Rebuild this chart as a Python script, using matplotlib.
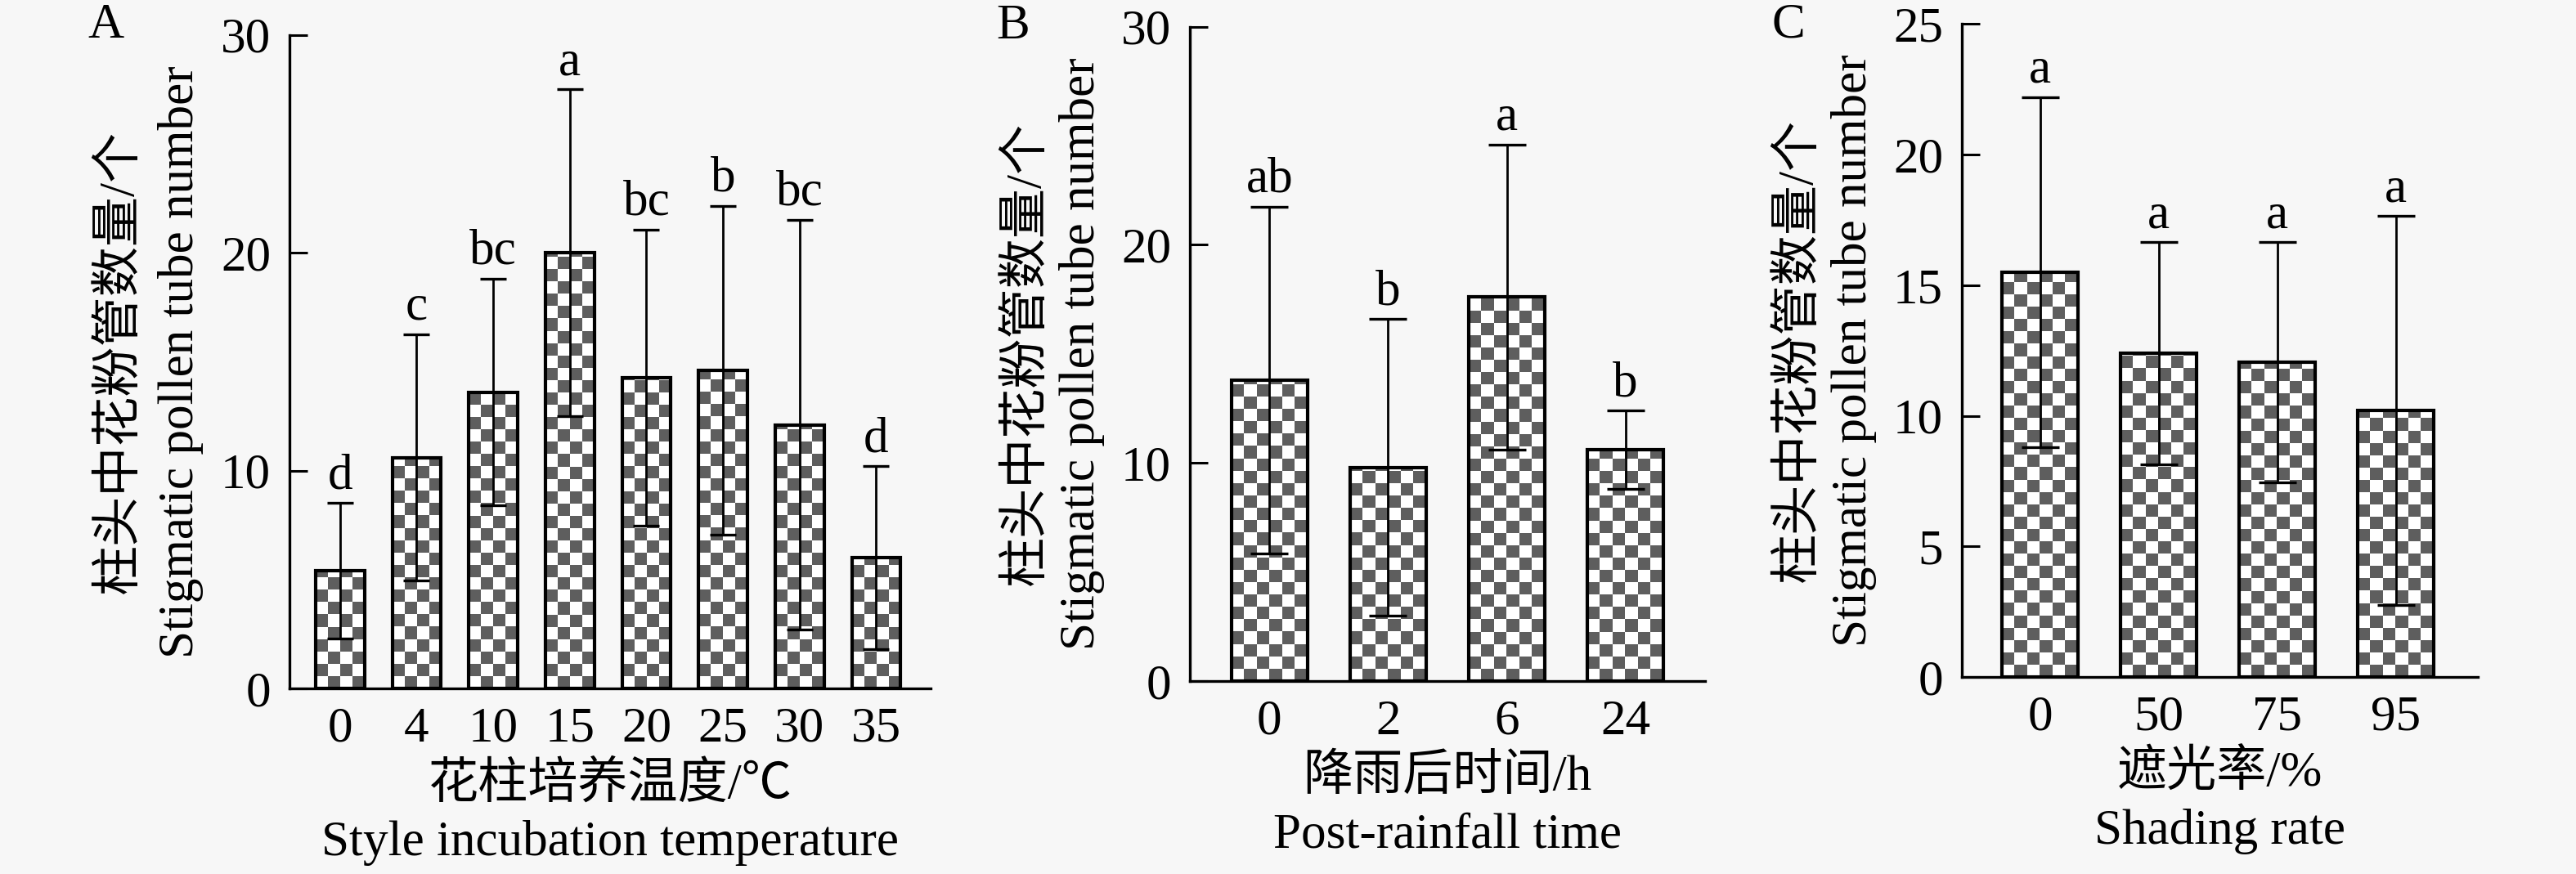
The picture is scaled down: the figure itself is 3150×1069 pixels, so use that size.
import numpy as np
import matplotlib
matplotlib.use('Agg')
import matplotlib.pyplot as plt
from matplotlib.colors import ListedColormap

plt.rcParams['font.family'] = ['Liberation Serif', 'Noto Sans CJK SC']

# ---------------- data ----------------
a_cats = ['0', '4', '10', '15', '20', '25', '30', '35']
a_means = [5.4, 10.6, 13.6, 20.0, 14.25, 14.6, 12.1, 6.0]
a_errs = [3.1, 5.65, 5.2, 7.5, 6.8, 7.55, 9.4, 4.2]
a_letters = ['d', 'c', 'bc', 'a', 'bc', 'b', 'bc', 'd']

b_cats = ['0', '2', '6', '24']
b_means = [13.8, 9.8, 17.6, 10.6]
b_errs = [7.95, 6.8, 7.0, 1.8]
b_letters = ['ab', 'b', 'a', 'b']

c_cats = ['0', '50', '75', '95']
c_means = [15.5, 12.4, 12.05, 10.2]
c_errs = [6.7, 4.25, 4.6, 7.45]
c_letters = ['a', 'a', 'a', 'a']

ylab_cn = '柱头中花粉管数量/个'
ylab_en = 'Stigmatic pollen tube number'
a_xlab = ('花柱培养温度/℃', 'Style incubation temperature')
b_xlab = ('降雨后时间/h', 'Post-rainfall time')
c_xlab = ('遮光率/%', 'Shading rate')

W, H = 3150, 1069
DPI = 100
PT = 72.0 / DPI   # px -> pt
FS = 44
BG = '#f7f7f7'
DARK = '#5e5e5e'
CELL = 15

fig = plt.figure(figsize=(W / DPI, H / DPI), dpi=DPI, facecolor=BG)


def panel(rect_px, cats, means, errs, letters, ymax, yticks, xlim, capsize_px,
          xlab, panel_letter, letter_px, ylab_offsets):
    l, r, t, b = rect_px
    ax = fig.add_axes([l / W, 1 - b / H, (r - l) / W, (b - t) / H])
    ax.set_facecolor('none')
    x = np.arange(len(cats))
    width = 0.64
    base = ax.bar(x, means, width, color='white', edgecolor='none', zorder=1)
    ax.bar(x, means, width, fill=False, edgecolor='black', linewidth=3.0, zorder=3)
    ax.errorbar(x, means, yerr=errs, fmt='none', ecolor='black', elinewidth=2.0,
                capsize=capsize_px * PT, capthick=2.4, zorder=4)
    # checkerboard fill
    cmap = ListedColormap(['#ffffff', DARK])
    ax_w = r - l
    ax_h = b - t
    xspan = xlim[1] - xlim[0]
    nrows = int(round(ax_h / CELL))
    for bar in base:
        x0 = bar.get_x()
        w = bar.get_width()
        ncols = max(1, int(round(w / xspan * ax_w / CELL)))
        arr = np.add.outer(np.arange(nrows), np.arange(ncols)) % 2
        im = ax.imshow(arr, cmap=cmap, vmin=0, vmax=1, extent=(x0, x0 + w, 0, ymax),
                       origin='lower', aspect='auto', interpolation='nearest', zorder=2)
        im.set_clip_path(bar)
    ax.set_xlim(*xlim)
    ax.set_ylim(0, ymax)
    ax.set_aspect('auto')
    for s in ['top', 'right']:
        ax.spines[s].set_visible(False)
    for s in ['left', 'bottom']:
        ax.spines[s].set_linewidth(2.4)
    ax.set_xticks(x)
    ax.set_xticklabels(cats)
    ax.set_yticks(yticks)
    ax.tick_params(axis='y', direction='in', length=16, width=2.2, pad=16.5, labelsize=FS)
    ax.tick_params(axis='x', length=0, pad=16, labelsize=FS)
    for xi, m, e, lt in zip(x, means, errs, letters):
        ax.annotate(lt, xy=(xi, m + e), xytext=(0, 13), textcoords='offset points',
                    ha='center', va='baseline', fontsize=FS)
    # y label (two lines)
    ax.annotate(ylab_cn, xy=(0, 0.5), xycoords='axes fraction',
                xytext=(-ylab_offsets[0] * PT, 0), textcoords='offset points',
                rotation=90, ha='center', va='center', fontsize=FS)
    ax.annotate(ylab_en, xy=(0, 0.5), xycoords='axes fraction',
                xytext=(-ylab_offsets[1] * PT, 0), textcoords='offset points',
                rotation=90, ha='center', va='center', fontsize=FS)
    # x label (two lines)
    ax.annotate(xlab[0], xy=(0.5, 0), xycoords='axes fraction',
                xytext=(0, -118 * PT), textcoords='offset points',
                ha='center', va='center', fontsize=FS)
    ax.annotate(xlab[1], xy=(0.5, 0), xycoords='axes fraction',
                xytext=(0, -189 * PT), textcoords='offset points',
                ha='center', va='center', fontsize=FS)
    fig.text(letter_px[0] / W, 1 - letter_px[1] / H, panel_letter, ha='center', va='center',
             fontsize=FS)
    return ax


panel((354, 1138, 42.5, 842), a_cats, a_means, a_errs, a_letters, 30, [0, 10, 20, 30],
      (-0.66, 7.71), 16, a_xlab, 'A', (130, 31), (207, 133))
panel((1455, 2085, 32.7, 833), b_cats, b_means, b_errs, b_letters, 30, [0, 10, 20, 30],
      (-0.67, 3.67), 23, b_xlab, 'B', (1239, 32), (199, 132))
panel((2399, 3030, 29.3, 828), c_cats, c_means, c_errs, c_letters, 25, [0, 5, 10, 15, 20, 25],
      (-0.66, 3.69), 23, c_xlab, 'C', (2187, 31), (199, 132))

fig.savefig('out.png', dpi=DPI, facecolor=BG)
